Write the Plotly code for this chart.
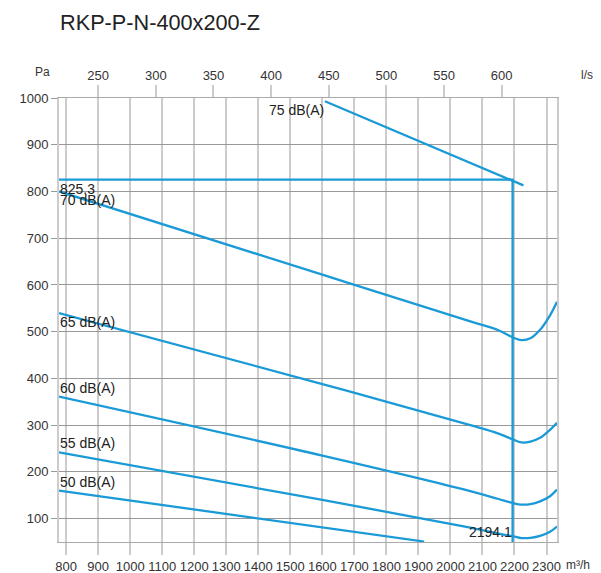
import plotly.graph_objects as go

# ---- data (flow in m3/h, pressure in Pa) ----
title_text = "RKP-P-N-400x200-Z"
db75_flow = [1608, 2228]
db75_pa = [993, 813]
db70_flow = [777.6, 1600, 2062, 2150, 2197, 2222, 2250, 2280, 2311, 2332.8]
db70_pa = [800, 622, 522, 503, 487, 482, 486, 504, 535, 564]
db65_flow = [777.6, 1600, 2062, 2150, 2197, 2222, 2250, 2280, 2311, 2332.8]
db65_pa = [540, 388, 300, 282, 269, 263, 265, 273, 290, 305]
db60_flow = [777.6, 1600, 2062, 2150, 2197, 2220, 2250, 2280, 2311, 2332.8]
db60_pa = [361, 235, 159, 142, 133, 130, 131, 137, 148, 162]
db55_flow = [777.6, 1600, 2062, 2150, 2197, 2222, 2250, 2280, 2311, 2332.8]
db55_pa = [242, 140, 81, 68, 62, 58.5, 59, 63, 72, 83]
db50_flow = [777.6, 1918]
db50_pa = [160, 51]
curve_labels = ["75 dB(A)", "70 dB(A)", "65 dB(A)", "60 dB(A)", "55 dB(A)", "50 dB(A)"]

op_flow = 2194.1
op_pa = 825.3

x_range = [777.6, 2332.8]
y_range = [50, 1000]
m3h_ticks = list(range(800, 2301, 100))
ls_ticks = [250, 300, 350, 400, 450, 500, 550, 600]
pa_ticks = [100, 200, 300, 400, 500, 600, 700, 800, 900, 1000]

BLUE = "#1a9ad6"
FONT = "Liberation Sans, Arial, sans-serif"
TXT = "#333333"

# page has an 8px body margin: figure drawn 8px in from the window's top-left
W, H = 593, 565

fig = go.Figure()
series = [(db75_flow, db75_pa), (db70_flow, db70_pa), (db65_flow, db65_pa),
          (db60_flow, db60_pa), (db55_flow, db55_pa), (db50_flow, db50_pa)]
for (fx, py), name in zip(series, curve_labels):
    fig.add_trace(go.Scatter(x=fx, y=py, mode="lines", name=name,
                             line=dict(color=BLUE, width=2.3, shape="spline", smoothing=1.0),
                             hoverinfo="skip"))

# operating point lines
fig.add_trace(go.Scatter(x=[x_range[0], op_flow, op_flow], y=[op_pa, op_pa, y_range[0]],
                         mode="lines", line=dict(color=BLUE, width=2.3), hoverinfo="skip"))

# dummy trace for top axis
fig.add_trace(go.Scatter(x=[x_range[0] / 3.6], y=[y_range[0]], xaxis="x2", mode="markers",
                         marker=dict(opacity=0), hoverinfo="skip"))

ann = []
ann.append(dict(x=db75_flow[0], y=db75_pa[0], text=curve_labels[0], xanchor="right", yanchor="top"))
ann.append(dict(x=db70_flow[0], y=db70_pa[0], text=curve_labels[1], xanchor="left", yanchor="top"))
ann.append(dict(x=db65_flow[0], y=db65_pa[0], text=curve_labels[2], xanchor="left", yanchor="top"))
ann.append(dict(x=db60_flow[0], y=db60_pa[0], text=curve_labels[3], xanchor="left", yanchor="bottom"))
ann.append(dict(x=db55_flow[0], y=db55_pa[0], text=curve_labels[4], xanchor="left", yanchor="bottom"))
ann.append(dict(x=db50_flow[0], y=db50_pa[0], text=curve_labels[5], xanchor="left", yanchor="bottom"))
ann.append(dict(x=x_range[0], y=op_pa, text=f"{op_pa}", xanchor="left", yanchor="top"))
ann.append(dict(x=op_flow, y=y_range[0], text=f"{op_flow}", xanchor="right", yanchor="bottom", yshift=1))
for a in ann:
    a.update(xref="x", yref="y", showarrow=False, font=dict(family=FONT, size=14, color="#222"), borderpad=0)

PL, PR, PT, PB = 51, 549.3, 89.7, 534.3
def px(x):
    return (x - PL) / (PR - PL)
def py_(y):
    return (PB - y) / (PB - PT)
for txt, x, y, xa in [("Pa", 34, 64, "center"), ("l/s", 579, 67, "center"), ("m³/h", 584, 557, "right")]:
    ann.append(dict(xref="paper", yref="paper", x=px(x), y=py_(y), text=txt, showarrow=False,
                    xanchor=xa, yanchor="middle", font=dict(family=FONT, size=12, color=TXT)))

fig.update_layout(
    width=W, height=H,
    margin=dict(l=PL, r=W - PR, t=PT, b=H - PB, autoexpand=False),
    paper_bgcolor="white", plot_bgcolor="white",
    showlegend=False,
    font=dict(family=FONT, size=13, color=TXT),
    title=dict(text=title_text, x=52 / W, xanchor="left", y=1 - 14 / H, yanchor="middle",
               font=dict(family=FONT, size=21.7, color="#222")),
    annotations=ann,
    xaxis=dict(range=x_range, tickvals=m3h_ticks, showgrid=True, gridcolor="#cccccc", gridwidth=2,
               ticks="outside", ticklen=12, tickcolor="#cccccc", tickwidth=2,
               showline=True, linecolor="#aaaaaa", linewidth=1, mirror=True, zeroline=False,
               tickfont=dict(family=FONT, size=13, color=TXT), automargin=False),
    xaxis2=dict(range=[x_range[0] / 3.6, x_range[1] / 3.6], tickvals=ls_ticks, overlaying="x", side="top",
                showgrid=False, ticks="outside", ticklen=12, tickcolor="#cccccc", tickwidth=2,
                zeroline=False, tickfont=dict(family=FONT, size=13, color=TXT), automargin=False),
    yaxis=dict(range=y_range, tickvals=pa_ticks, showgrid=True, gridcolor="#999999", gridwidth=1,
               ticks="outside", ticklen=6, tickcolor="#999999",
               showline=True, linecolor="#cccccc", linewidth=2, mirror=True, zeroline=False,
               tickfont=dict(family=FONT, size=13, color=TXT), automargin=False),
)

fig.write_html("out.html")
